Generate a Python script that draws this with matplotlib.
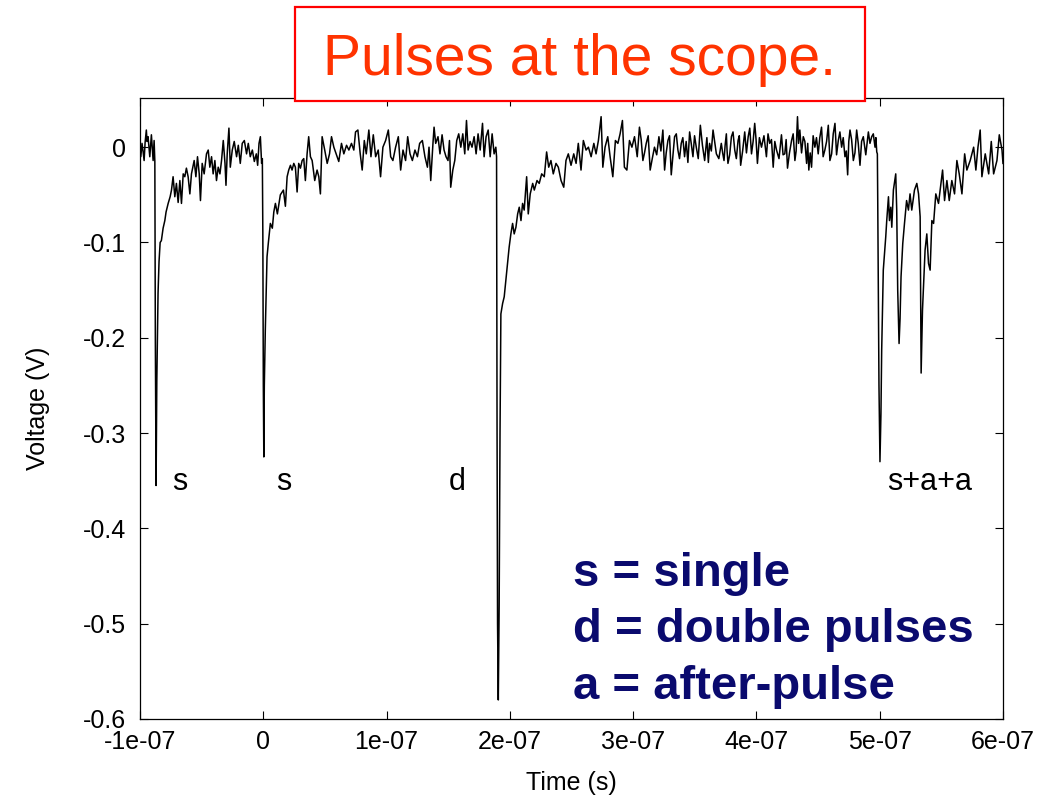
"""Scope trace with single, double and after-pulses (values read off the
original picture: time in ns, voltage in V)."""
import matplotlib
matplotlib.use("Agg")
import matplotlib.pyplot as plt
from matplotlib.patches import Rectangle
import numpy as np

# --- trace ----------------------------------------------------------------
TIME_NS = [
    # before first pulse
    -100.0, -99.4, -98.4, -97.6, -96.7, -95.9, -94.9, -94.3, -93.5, -92.1,
    -90.8, -89.4, -88.6, -88.0,
    # pulse s (1)
    -87.6, -87.0, -86.4, -85.4, -84.6, -83.7, -82.7, -81.3, -79.9, -78.9,
    -77.2, -75.6, -74.5,
    -73.2, -71.8, -70.5, -69.1, -67.7, -66.4, -65.0, -63.7, -62.4, -61.0,
    -59.6, -58.3, -56.1, -54.7, -53.4, -52.0, -51.0, -49.6, -48.0, -46.1,
    -44.7, -43.4, -42.0, -40.7, -39.3, -38.0, -36.6, -35.2, -33.9, -32.5,
    -31.1, -30.3, -29.3, -27.9, -26.8, -25.2, -23.6, -21.7, -20.3, -18.7,
    -17.1, -15.4, -13.6, -12.2, -10.6, -8.9, -7.3, -5.7, -4.6, -3.5,
    -2.4, -1.4, -0.8,
    # pulse s (2)
    -0.4, 0.0, 0.4, 0.8, 1.6, 3.0, 4.1, 5.7, 7.3, 8.5, 9.8, 11.4, 13.8,
    16.3, 17.9,
    19.3, 20.6, 22.0, 23.3, 24.7, 26.0, 27.4, 28.7, 30.1, 31.5, 32.8, 34.1,
    35.5, 36.8, 38.2, 39.6, 41.7, 43.6, 45.0, 46.3, 47.7, 49.8, 51.8, 53.7,
    55.3, 57.2, 59.1, 61.2, 63.4, 65.3, 67.5, 69.4, 71.5, 73.4, 74.8, 76.7,
    78.6, 80.2, 81.9, 83.5, 85.6, 87.3, 89.2, 91.1, 93.2, 95.1, 97.0, 99.2,
    101.4, 103.3, 105.1, 107.3, 109.5, 111.4, 113.3, 115.4, 117.1, 119.0,
    120.9, 123.0, 125.0, 126.8, 129.0, 131.1, 133.1, 134.4, 135.8, 137.6,
    138.5, 139.8, 141.7, 143.3, 145.0, 146.6, 148.2, 149.8, 151.0, 152.0,
    153.7, 155.3, 156.9, 158.5, 160.2, 161.8, 163.4, 164.8, 166.1, 167.7,
    169.3, 171.0, 172.6, 174.2, 175.9, 177.8, 179.1, 180.7, 182.4, 184.0,
    185.6, 187.2, 188.6,
    # pulse d
    189.2, 189.6, 190.0, 190.6, 191.3, 192.0, 192.7,
    194.1, 195.4, 196.7, 198.1, 199.4, 200.8, 202.2, 203.5, 204.9, 206.3,
    207.6, 209.0, 210.3, 211.6, 213.6, 214.9, 216.5, 218.5, 219.8, 222.0,
    223.8, 225.8, 227.9, 229.8, 231.5, 233.3, 235.2, 237.4, 239.3, 241.5,
    243.7, 245.5, 247.4, 249.6, 251.8, 253.7, 255.5, 257.7, 259.6, 261.8,
    263.7, 265.9, 268.1, 269.9, 271.8, 274.0, 275.4, 277.2, 279.4, 281.3,
    283.5, 285.6, 287.6, 289.4, 291.3, 292.9, 294.9, 297.0, 299.0, 301.1,
    303.3, 305.1,
    307.9, 310.6, 313.8, 317.3, 320.9, 324.1, 325.5, 328.2, 330.9, 333.6,
    336.3, 339.0, 341.7, 345.8, 348.5, 351.2, 354.5, 358.0, 362.0, 364.8,
    367.5,
    371.5, 373.7, 375.6, 376.9, 379.7, 382.4, 385.1, 387.2, 390.5, 393.3,
    396.0, 398.6, 400.8, 404.1, 408.1, 410.8, 413.6, 416.3, 420.3, 423.0,
    425.2, 428.5, 431.2, 433.3, 435.2, 438.0, 440.7, 442.5, 444.7, 447.4,
    450.1, 452.8, 455.5, 458.3, 461.0, 463.7, 466.4, 469.1, 471.8, 474.0,
    475.9, 478.6, 481.3, 484.0, 486.7, 490.8, 493.5, 496.2, 497.6,
    # pulse s+a+a
    498.1, 498.4, 499.4, 500.2, 501.0, 501.6, 502.9, 504.3, 504.9, 505.7,
    507.1, 507.9, 509.0, 509.8, 511.1, 513.0, 513.8, 514.6, 515.7, 516.5,
    517.3, 518.7, 520.1, 521.8, 523.3, 524.6, 526.0, 528.2, 530.1, 531.5,
    532.8, 533.6, 534.7, 536.8, 538.2, 539.6, 540.9, 542.3, 543.7, 545.5,
    547.7, 549.0, 551.0, 552.6, 554.5, 556.4, 558.5, 560.7, 562.6, 564.5,
    566.7, 568.9, 570.7, 573.4, 576.2, 578.0, 579.7, 581.5, 582.9, 585.6,
    588.4, 590.5, 592.4, 595.1, 597.0, 599.2, 600.0,
]

VOLTAGE = [
    0.000, -0.010, 0.004, -0.004, -0.014, 0.005, 0.018, 0.006, 0.011, -0.010,
    0.013, -0.014, 0.007, -0.015,
    -0.200, -0.355, -0.245, -0.153, -0.120, -0.100, -0.098, -0.085, -0.077,
    -0.068, -0.059, -0.052, -0.045,
    -0.031, -0.052, -0.038, -0.058, -0.035, -0.059, -0.028, -0.031, -0.022,
    -0.031, -0.049, -0.028, -0.014, -0.031, -0.010, -0.028, -0.056, -0.017,
    -0.028, -0.007, -0.003, -0.021, -0.010, -0.028, -0.014, -0.035, -0.021,
    -0.028, -0.014, 0.007, -0.017, -0.040, -0.007, 0.020, -0.021, -0.003,
    0.006, -0.010, 0.002, -0.017, 0.004, 0.007, -0.007, 0.004, -0.010,
    -0.003, -0.015, -0.007, -0.019, 0.004, 0.011, -0.017, -0.012,
    -0.090, -0.250, -0.325, -0.250, -0.192, -0.115, -0.100, -0.080, -0.085,
    -0.068, -0.059, -0.070, -0.050, -0.045, -0.062,
    -0.031, -0.024, -0.019, -0.024, -0.017, -0.021, -0.047, -0.017, -0.022,
    -0.014, -0.012, -0.035, -0.007, 0.011, -0.010, -0.014, -0.035, -0.024,
    -0.031, -0.049, 0.011, -0.003, -0.017, -0.007, 0.011, 0.000, -0.007,
    -0.015, 0.004, -0.007, 0.002, -0.003, 0.004, -0.003, 0.016, 0.018,
    -0.007, -0.024, 0.007, -0.007, 0.018, -0.010, 0.013, -0.010, -0.003,
    -0.031, 0.000, 0.007, 0.018, -0.010, -0.014, 0.000, 0.011, -0.024,
    -0.003, -0.014, 0.011, -0.007, -0.014, -0.003, -0.010, 0.004, 0.007,
    -0.010, -0.021, 0.000, -0.035, 0.004,
    0.021, 0.004, 0.011, -0.007, 0.013, -0.003, -0.010, -0.014, 0.007,
    -0.042, -0.024, -0.014, 0.007, 0.014, 0.000, 0.014, -0.007, 0.028,
    -0.003, 0.006, 0.000, 0.011, -0.007, 0.014, -0.003, 0.025, -0.010,
    0.011, 0.018, -0.010, 0.014, -0.007, 0.000,
    -0.010, -0.300, -0.500, -0.580, -0.480, -0.300, -0.175,
    -0.164, -0.157, -0.140, -0.122, -0.105, -0.091, -0.080, -0.091, -0.084,
    -0.070, -0.063, -0.077, -0.059, -0.066, -0.031, -0.070, -0.049, -0.038,
    -0.045, -0.035, -0.038, -0.028, -0.031, -0.005, -0.021, -0.014, -0.028,
    -0.017, -0.021, -0.035, -0.042, -0.014, -0.007, -0.019, -0.007, -0.017,
    0.004, -0.024, 0.007, -0.003, 0.000, -0.010, 0.004, -0.007, 0.007,
    0.032, -0.021, 0.000, 0.011, -0.010, -0.031, 0.007, 0.004, 0.014,
    0.028, -0.021, -0.024, 0.007, 0.000, 0.011, -0.010, 0.021,
    -0.014, 0.004, -0.024, 0.000, 0.011, 0.018, -0.024, 0.007, -0.029,
    0.011, -0.003, 0.004, -0.010, 0.016, -0.010, 0.000, 0.023, -0.014,
    0.004, 0.018, -0.007,
    0.004, -0.014, 0.014, -0.017, 0.011, -0.003, 0.007, -0.019, 0.016,
    0.011, -0.007, 0.025, -0.017, 0.000, -0.010, 0.004, -0.021, -0.003,
    0.013, -0.007, -0.022, 0.007, -0.014, 0.032, 0.018, 0.011, -0.017,
    -0.024, -0.021, 0.000, -0.007, 0.021, -0.003, 0.023, -0.007, 0.025,
    0.007, 0.000, -0.010, -0.029, 0.018, -0.014, 0.018, -0.019, 0.011,
    0.016, 0.011, 0.000, -0.005,
    -0.007, -0.056, -0.250, -0.330, -0.280, -0.213, -0.129, -0.105, -0.094,
    -0.077, -0.052, -0.077, -0.063, -0.084, -0.045, -0.028, -0.066, -0.150,
    -0.206, -0.180, -0.136, -0.101, -0.080, -0.056, -0.066, -0.049, -0.066,
    -0.045, -0.038, -0.049, -0.073, -0.237, -0.171, -0.108, -0.091, -0.122,
    -0.129, -0.077, -0.080, -0.049, -0.059, -0.045, -0.024, -0.056, -0.035,
    -0.056, -0.035, -0.049, -0.014, -0.028, -0.049, -0.007, -0.024, -0.014,
    0.000, -0.024, 0.000, 0.018, -0.031, -0.007, -0.028, 0.006, -0.028,
    -0.014, 0.013, -0.003, -0.017,
]

# extra samples in the flat stretch before the s+a+a pulse (denser noise)
FLAT_T_NS = [
    306.5, 309.2, 312.2, 315.5, 319.1, 322.5, 326.8, 329.5, 332.2, 335.0,
    337.6, 340.3, 343.0, 344.4, 347.1, 349.8, 352.8, 356.2, 359.8, 361.0,
    363.4, 366.1, 369.5, 372.6, 374.6, 376.2, 378.3, 381.0, 383.7, 386.1,
    388.8, 391.9, 394.6, 397.3, 399.7, 402.4, 406.1, 409.4, 412.2, 414.9,
    418.3, 421.6, 424.1, 426.8, 429.8, 432.2, 434.2, 436.6, 439.3, 441.6,
    443.6, 446.0, 448.7, 451.4, 454.1, 456.9, 459.6, 462.3, 465.0, 467.7,
    470.4, 472.9, 474.9, 477.2, 479.9, 482.6, 485.3, 488.7, 492.1, 494.8,
    496.9,
]
FLAT_V = [
    0.008, -0.006, 0.012, -0.012, -0.008, -0.004, -0.006, 0.012, -0.010,
    0.014, -0.012, 0.010, 0.006, -0.016, 0.004, 0.012, -0.012, 0.002, 0.010,
    -0.016, -0.004, 0.006, -0.012, -0.006, 0.002, -0.004, -0.008, 0.016,
    -0.012, 0.012, -0.004, -0.006, 0.020, 0.006, 0.008, 0.010, 0.012, 0.014,
    0.008, 0.006, -0.012, -0.008, 0.008, -0.006, 0.014, -0.004, 0.004,
    -0.006, 0.006, 0.004, -0.006, 0.012, 0.010, 0.010, -0.010, 0.006,
    -0.014, 0.014, -0.008, 0.016, 0.010, -0.004, 0.006, 0.008, -0.006,
    0.004, 0.006, -0.008, 0.004, 0.014, 0.010,
]

XTICKS_S = [-1e-7, 0, 1e-7, 2e-7, 3e-7, 4e-7, 5e-7, 6e-7]
XTICK_LABELS = ["-1e-07", "0", "1e-07", "2e-07", "3e-07", "4e-07", "5e-07", "6e-07"]
YTICKS = [0, -0.1, -0.2, -0.3, -0.4, -0.5, -0.6]
YTICK_LABELS = ["0", "-0.1", "-0.2", "-0.3", "-0.4", "-0.5", "-0.6"]

# pulse tags: (label, time in ns)
TAGS = [("s", -67.5), ("s", 16.3), ("d", 156.9), ("s+a+a", 540.7)]
LEGEND_LINES = ["s = single", "d = double pulses", "a = after-pulse"]

plt.rcParams.update({
    "font.family": ["Liberation Sans", "DejaVu Sans"],
    "font.size": 18,
    "axes.linewidth": 0.9,
    "xtick.direction": "in", "ytick.direction": "in",
    "xtick.top": True, "ytick.right": True,
    "xtick.major.size": 6, "ytick.major.size": 6,
    "xtick.major.pad": 8, "ytick.major.pad": 10,
})

fig = plt.figure(figsize=(10.57, 8.0), dpi=100)
ax = fig.add_axes([0.1325, 0.10125, 0.8164, 0.776])

t_ns = np.concatenate([TIME_NS, FLAT_T_NS])
volts = np.concatenate([VOLTAGE, FLAT_V])
order = np.argsort(t_ns, kind="stable")
ax.plot(t_ns[order] * 1e-9, volts[order], color="black", lw=1.1)

ax.set_xlim(-1e-7, 6e-7)
ax.set_ylim(-0.6, 0.0514)
ax.set_xticks(XTICKS_S, XTICK_LABELS)
ax.set_yticks(YTICKS, YTICK_LABELS)
ax.set_xlabel("Time (s)", fontsize=18, labelpad=12)
ax.set_ylabel("Voltage (V)", fontsize=18, labelpad=24)

for label, tn in TAGS:
    ax.text(tn * 1e-9, -0.36, label, ha="center", va="baseline", fontsize=22)

for i, line in enumerate(LEGEND_LINES):
    ax.text(251.2e-9, -0.46 - 0.0595 * i, line, ha="left", va="baseline",
            fontsize=34, fontweight="bold", color="#0a0a6e")

# title box over the top edge of the axes
fig.patches.append(Rectangle((0.2791, 0.8738), 0.5393, 0.1175,
                             transform=fig.transFigure, facecolor="white",
                             edgecolor="#ff0000", linewidth=1.6, zorder=5))
fig.text(0.5487, 0.906, "Pulses at the scope.", ha="center", va="baseline",
         fontsize=41, color="#ff3300", zorder=6)

fig.savefig("out.png", dpi=100)
